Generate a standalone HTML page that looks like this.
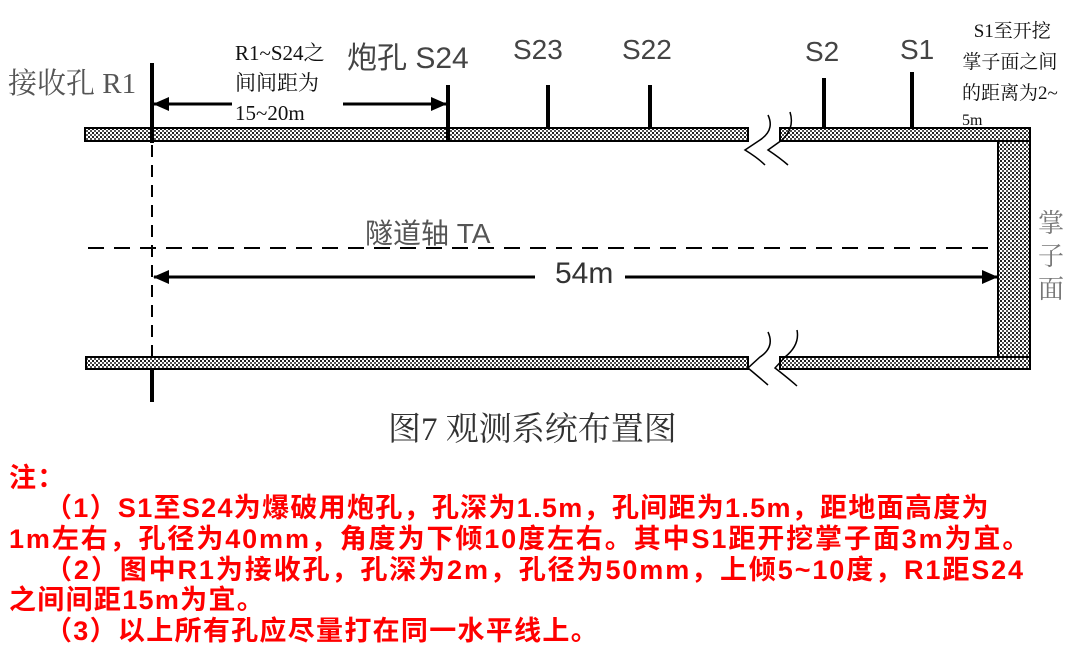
<!DOCTYPE html>
<html><head><meta charset="utf-8"><style>
body{margin:0;width:1091px;height:664px;background:#fff;position:relative;overflow:hidden}
.t{position:absolute;white-space:nowrap}
.n{position:absolute;white-space:nowrap;color:#ff0000;font-weight:bold;font-size:27px;letter-spacing:1.3px;font-family:"Liberation Sans","Noto Sans CJK SC",sans-serif;line-height:30px}
</style></head><body>
<svg width="1091" height="664" style="position:absolute;left:0;top:0">
<defs>
<pattern id="h" width="4" height="4" patternUnits="userSpaceOnUse"><rect width="4" height="4" fill="#fff"/><rect width="2" height="2" fill="#222"/><rect x="2" y="2" width="2" height="2" fill="#555"/></pattern>
<marker id="a" markerWidth="16" markerHeight="16" refX="15" refY="8" orient="auto" markerUnits="userSpaceOnUse"><path d="M0,1 L16,8 L0,15z" fill="#000"/></marker>
</defs>
<g stroke="#000" stroke-width="2">
<rect x="85" y="128" width="663" height="13" fill="url(#h)"/>
<rect x="780" y="128" width="250" height="13" fill="url(#h)"/>
<rect x="998" y="141" width="32" height="217" fill="url(#h)"/>
<rect x="86" y="357" width="662" height="12" fill="url(#h)"/>
<rect x="780" y="357" width="250" height="12" fill="url(#h)"/>
</g>
<g fill="none" stroke="#000" stroke-width="1.5">
<path d="M768,115 Q775,130 760,140 L745,150 Q758,158 765,165"/>
<path d="M790,112 Q795,128 782,140 L768,150 Q780,158 788,165"/>
<path d="M768,332 Q775,347 760,357 L748,368 Q760,378 768,385"/>
<path d="M797,330 Q800,345 785,357 L775,368 Q788,378 797,386"/>
</g>
<g stroke="#000" stroke-width="4">
<line x1="152" y1="63" x2="152" y2="143"/>
<line x1="152" y1="370" x2="152" y2="402"/>
<line x1="448" y1="85" x2="448" y2="140"/>
<line x1="548" y1="85" x2="548" y2="128"/>
<line x1="650" y1="85" x2="650" y2="128"/>
<line x1="824" y1="78" x2="824" y2="128"/>
<line x1="912" y1="72" x2="912" y2="128"/>
</g>
<line x1="152" y1="145" x2="152" y2="358" stroke="#000" stroke-width="2" stroke-dasharray="12,8"/>
<line x1="88" y1="248" x2="993" y2="248" stroke="#000" stroke-width="2" stroke-dasharray="16,10"/>
<g stroke="#000" stroke-width="3">
<line x1="232" y1="104" x2="154" y2="104" marker-end="url(#a)"/>
<line x1="343" y1="104" x2="446" y2="104" marker-end="url(#a)"/>
<line x1="535" y1="277" x2="154" y2="277" marker-end="url(#a)"/>
<line x1="625" y1="277" x2="997" y2="277" marker-end="url(#a)"/>
</g>
</svg>
<div class="t" style="left:8px;top:61px;font-size:29px;color:#555;font-family:'Liberation Serif','Noto Serif CJK SC',serif">接收孔 R1</div>
<div class="t" style="left:235px;top:38px;font-size:21px;line-height:30px;color:#111;font-family:'Liberation Serif','Noto Serif CJK SC',serif">R1~S24之<br>间间距为<br>15~20m</div>
<div class="t" style="left:347px;top:33px;font-size:30px;color:#444;font-family:'Liberation Sans','Noto Sans CJK SC',sans-serif">炮孔 S24</div>
<div class="t" style="left:513px;top:34px;font-size:28px;color:#444;font-family:'Liberation Sans',sans-serif">S23</div>
<div class="t" style="left:622px;top:34px;font-size:28px;color:#444;font-family:'Liberation Sans',sans-serif">S22</div>
<div class="t" style="left:805px;top:36px;font-size:28px;color:#444;font-family:'Liberation Sans',sans-serif">S2</div>
<div class="t" style="left:900px;top:34px;font-size:28px;color:#444;font-family:'Liberation Sans',sans-serif">S1</div>
<div class="t" style="left:962px;top:16px;font-size:19px;line-height:31px;color:#111;font-family:'Liberation Serif','Noto Serif CJK SC',serif;text-align:center">&nbsp;S1至开挖<br>掌子面之间<br>的距离为2~</div>
<div class="t" style="left:962px;top:112px;font-size:16px;color:#111;font-family:'Liberation Serif',serif">5m</div>
<div class="t" style="left:1038px;top:205px;font-size:26px;line-height:33px;color:#777;font-family:'Noto Serif CJK SC',serif;width:30px">掌<br>子<br>面</div>
<div class="t" style="left:365px;top:212px;font-size:28px;color:#555;font-family:'Liberation Sans','Noto Sans CJK SC',sans-serif">隧道轴 TA</div>
<div class="t" style="left:555px;top:257px;font-size:30px;color:#333;font-family:'Liberation Sans',sans-serif">54m</div>
<div class="t" style="left:388px;top:403px;font-size:33px;color:#333;font-family:'Liberation Serif','Noto Serif CJK SC',serif">图7 观测系统布置图</div>
<div class="n" style="left:9px;top:463px">注：</div>
<div class="n" style="left:45px;top:493px">（1）S1至S24为爆破用炮孔，孔深为1.5m，孔间距为1.5m，距地面高度为</div>
<div class="n" style="left:9px;top:524px;letter-spacing:1.9px">1m左右，孔径为40mm，角度为下倾10度左右。其中S1距开挖掌子面3m为宜。</div>
<div class="n" style="left:45px;top:555px;letter-spacing:1.9px">（2）图中R1为接收孔，孔深为2m，孔径为50mm，上倾5~10度，R1距S24</div>
<div class="n" style="left:9px;top:585px">之间间距15m为宜。</div>
<div class="n" style="left:45px;top:616px">（3）以上所有孔应尽量打在同一水平线上。</div>
</body></html>
